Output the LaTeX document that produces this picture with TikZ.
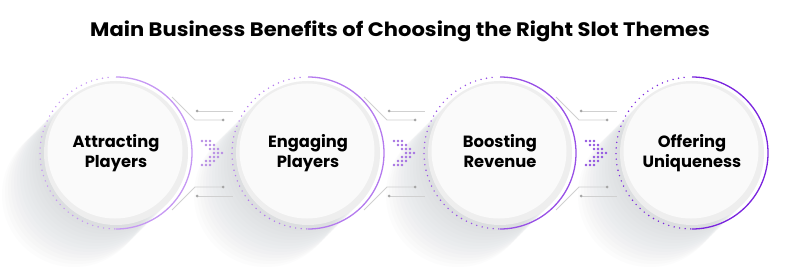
\documentclass[tikz,border=0pt]{standalone}
\usepackage{fontspec}
\setmainfont{Poppins}
\usetikzlibrary{positioning, calc, backgrounds}
\definecolor{shadowgray}{RGB}{188,196,201}
\definecolor{ringgray}{RGB}{238,238,238}
\definecolor{discwhite}{RGB}{250,250,250}
\definecolor{linegray}{RGB}{208,208,208}
\definecolor{dotgray}{RGB}{165,165,165}
\definecolor{purpleA}{RGB}{198,152,243}
\definecolor{purpleB}{RGB}{180,122,238}
\definecolor{purpleC}{RGB}{152,80,230}
\definecolor{purpleD}{RGB}{122,36,222}
\definecolor{chevA}{RGB}{183,140,228}
\definecolor{chevB}{RGB}{165,112,226}
\definecolor{chevC}{RGB}{145,82,224}

\begin{document}
\begin{tikzpicture}[
    x=1pt, y=-1pt,
    disc/.style={circle, minimum size=144pt, inner sep=0pt, outer sep=0pt, align=center, font=\fontsize{16.3}{20.5}\selectfont\bfseries},
    guide/.style={draw=linegray, line width=0.8pt},
    tipdot/.style={fill=dotgray}
]

\node[font=\fontsize{19.5}{23}\selectfont\bfseries] (title) at (400,31) {\scalebox{1.08}[1]{Main Business Benefits of Choosing the Right Slot Themes}};

\node[disc] (attract) at (116,153) {Attracting\\Players};
\node[disc, right=48pt of attract] (engage) {Engaging\\Players};
\node[disc, right=48pt of engage] (boost) {Boosting\\Revenue\vphantom{y}};
\node[disc, right=48pt of boost] (offer) {Offering\\Uniqueness};

% shadows and discs behind the labels
\begin{scope}[on background layer]
\fill[white] (0,0) rectangle (800,267);
\foreach \n in {attract,engage,boost,offer}
  \foreach \t in {0,3,...,42}
    \fill[shadowgray, opacity=0.045] ($(\n.center)+(-\t,\t)$) circle[radius=72pt];
\foreach \n in {attract,engage,boost,offer} {
  \fill[ringgray] (\n.center) circle[radius=72pt];
  \fill[discwhite] ($(\n.center)+(-1,-2)$) circle[radius=67.5pt];
}
\end{scope}

% outer rings: solid right half, dotted left half
\foreach \n/\col in {attract/purpleA, engage/purpleB, boost/purpleC, offer/purpleD} {
  \draw[\col, line width=1.3pt] ($(\n.center)+(90:76pt)$) arc[start angle=90, end angle=-90, radius=76pt];
  \draw[\col, line width=1.6pt, line cap=round, dash pattern=on 0pt off 5.6pt] ($(\n.center)+(96:76pt)$) arc[start angle=96, end angle=270, radius=76pt];
}

% guide lines and chevrons in the gaps
\foreach \a/\col in {attract/chevA, engage/chevB, boost/chevC} {
  \draw[guide] ($(\a.center)+(81,-42)$) -- ($(\a.center)+(117,-42)$);
  \draw[guide] ($(\a.center)+(56,-56)$) -- ($(\a.center)+(79,-33)$) -- ($(\a.center)+(107,-33)$);
  \draw[guide] ($(\a.center)+(56,57)$) -- ($(\a.center)+(79,34)$) -- ($(\a.center)+(107,34)$);
  \draw[guide] ($(\a.center)+(81,43)$) -- ($(\a.center)+(117,43)$);
  \fill[tipdot] ($(\a.center)+(81,-42)$) circle[radius=1.5pt];
  \fill[tipdot] ($(\a.center)+(107,-33)$) circle[radius=1.5pt];
  \fill[tipdot] ($(\a.center)+(107,34)$) circle[radius=1.5pt];
  \fill[tipdot] ($(\a.center)+(81,43)$) circle[radius=1.5pt];
  \foreach \r/\o in {0/0,1/1,2/2,3/3,4/2,5/1,6/0}
    \foreach \k in {0,1,2}
      \fill[\col] ($(\a.center)+(86+4*\o+4*\k,-12+4*\r)$) circle[radius=1.4pt];
}

\useasboundingbox (0,0) rectangle (800,267);
\end{tikzpicture}
\end{document}
